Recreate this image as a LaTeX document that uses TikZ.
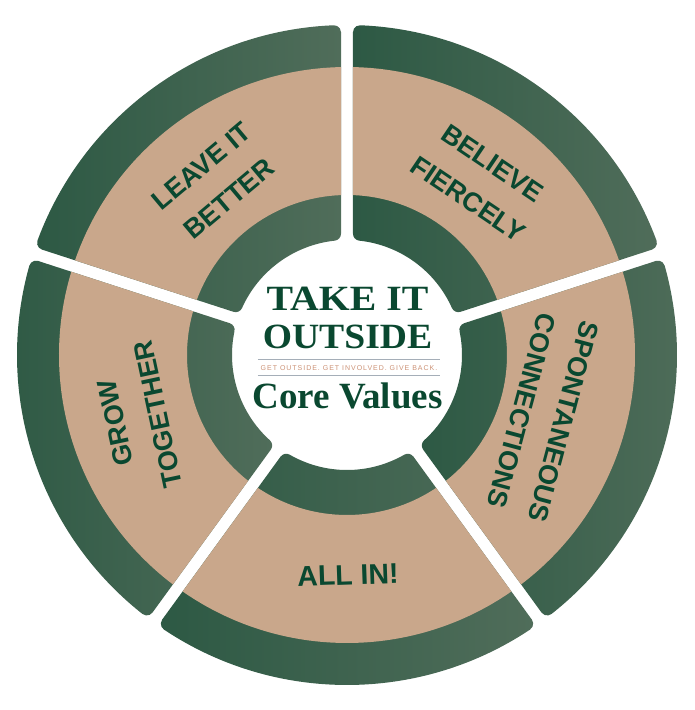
\documentclass[tikz,border=0pt]{standalone}
\usepackage{fontspec}
\usepackage{graphicx}
\setmainfont{Liberation Serif}
\newfontfamily\lblfont{Liberation Sans}
\usetikzlibrary{calc}
\definecolor{gdark}{RGB}{45,89,68}
\definecolor{glight}{RGB}{80,109,90}
\definecolor{tanc}{RGB}{201,167,139}
\definecolor{txtg}{RGB}{10,72,48}
\definecolor{tagc}{RGB}{204,146,118}
\definecolor{rulec}{RGB}{165,174,184}

\def\wRo{330}
\def\wRi{115}
\def\wRm{160}
\def\wRt{288}
\def\wGap{6}
\def\wFil{7}

\newcommand\drawseg[1]{%
  \pgfmathsetmacro\pu{#1+36}%
  \pgfmathsetmacro\pl{#1-36}%
  \pgfmathsetmacro\ao{asin((\wGap+\wFil)/(\wRo-\wFil))}%
  \pgfmathsetmacro\ai{asin((\wGap+\wFil)/(\wRi+\wFil))}%
  \pgfmathsetmacro\bu{\pu-\ao}%
  \pgfmathsetmacro\bl{\pl+\ao}%
  \pgfmathsetmacro\gl{\pl+\ai}%
  \pgfmathsetmacro\gu{\pu-\ai}%
  \pgfmathsetmacro\puA{\pu+90}%
  \pgfmathsetmacro\plB{\pl-90}%
  \pgfmathsetmacro\glC{\gl-180}%
  \pgfmathsetmacro\guC{\gu-180}%
  \pgfmathsetmacro\puD{\pu-270}%
  \pgfmathsetmacro\Rof{\wRo-\wFil}%
  \pgfmathsetmacro\Rif{\wRi+\wFil}%
  \shade[left color=gdark,right color=glight]
    ($(\bu:\Rof pt)+(\puA:\wFil pt)$)
    arc[start angle=\puA, end angle=\bu, radius=\wFil pt]
    arc[start angle=\bu, end angle=\bl, radius=\wRo pt]
    arc[start angle=\bl, end angle=\plB, radius=\wFil pt]
    -- ($(\gl:\Rif pt)+(\plB:\wFil pt)$)
    arc[start angle=\plB, end angle=\glC, radius=\wFil pt]
    arc[start angle=\gl, end angle=\gu, radius=\wRi pt]
    arc[start angle=\guC, end angle=\puD, radius=\wFil pt]
    -- cycle;
  \pgfmathsetmacro\tuo{\pu-asin(\wGap/\wRt)}%
  \pgfmathsetmacro\tlo{\pl+asin(\wGap/\wRt)}%
  \pgfmathsetmacro\tli{\pl+asin(\wGap/\wRm)}%
  \pgfmathsetmacro\tui{\pu-asin(\wGap/\wRm)}%
  \fill[tanc] (\tuo:\wRt pt) arc[start angle=\tuo, end angle=\tlo, radius=\wRt pt]
    -- (\tli:\wRm pt) arc[start angle=\tli, end angle=\tui, radius=\wRm pt] -- cycle;
}

\begin{document}
\begin{tikzpicture}[x=1pt,y=1pt,
  lbl/.style={text=txtg, font=\lblfont\bfseries\fontsize{27}{43}\selectfont, align=center, inner sep=0pt},
  ctr/.style={text=txtg, inner sep=0pt, anchor=base},
  rulestyle/.style={draw=rulec, line width=0.8pt}]
\fill[white] (-347,-355) rectangle (348,355);
\useasboundingbox (-347,-355) rectangle (348,355);

\drawseg{126}
\drawseg{54}
\drawseg{-18}
\drawseg{-90}
\drawseg{198}

\node[lbl, rotate=40] (leave) at (127.3:217pt) {LEAVE IT\\BETTER};
\node[lbl, rotate=-34] (believe) at (52.5:219pt) {BELIEVE\\FIERCELY};
\node[lbl, rotate=-105] (spont) at (-17.4:205pt) {SPONTANEOUS\\CONNECTIONS};
\node[lbl, rotate=2, font=\lblfont\bfseries\fontsize{28.5}{34}\selectfont] (allin) at (1,-220) {ALL IN!};
\node[lbl, rotate=102] (grow) at (196.8:219.7pt) {GROW\\TOGETHER};

\node[ctr, font=\bfseries\fontsize{35.5}{40}\selectfont] (take) at (0.5,45) {\scalebox{1.12}[1]{TAKE IT}};
\node[ctr, font=\bfseries\fontsize{35.5}{40}\selectfont] (outside) at (0.5,7) {\scalebox{1.06}[1]{OUTSIDE}};
\coordinate (r1a) at (-89,-4);
\coordinate (r1b) at (93,-4);
\coordinate (r2a) at (-89,-20);
\coordinate (r2b) at (93,-20);
\draw[rulestyle] (r1a) -- (r1b);
\draw[rulestyle] (r2a) -- (r2b);
\node[ctr, text=tagc, font=\lblfont\fontsize{7}{8}\selectfont\addfontfeature{LetterSpace=14}] (tag) at (2,-15) {GET OUTSIDE. GET INVOLVED. GIVE BACK.};
\node[ctr, font=\bfseries\fontsize{37}{40}\selectfont] (core) at (0.5,-53.3) {Core Values};
\end{tikzpicture}
\end{document}
